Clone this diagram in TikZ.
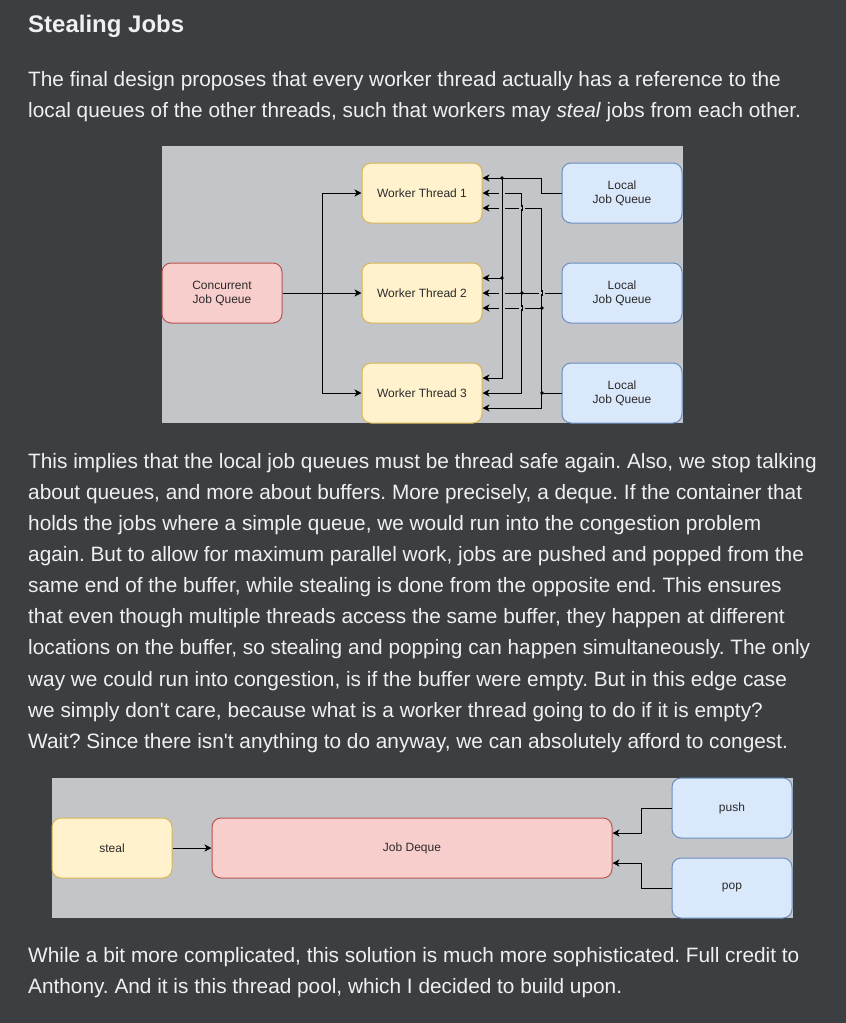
\documentclass[tikz,border=0pt]{standalone}
\usepackage{fontspec}
\setmainfont{Liberation Sans}
\usetikzlibrary{calc,arrows.meta}
\definecolor{pagebg}{HTML}{3B3F42}
\definecolor{diagbg}{HTML}{C3C5C8}
\definecolor{bodytext}{HTML}{F0F0F0}
\definecolor{boxtext}{HTML}{2A2A2A}
\definecolor{workfill}{HTML}{FFF2CC}	\definecolor{workdraw}{HTML}{D6B656}
\definecolor{queuefill}{HTML}{F8CECC}	\definecolor{queuedraw}{HTML}{B85450}
\definecolor{localfill}{HTML}{DAE8FC}	\definecolor{localdraw}{HTML}{6C8EBF}
\def\linegap(#1,#2)% Syntax: (x,y) of a crossing; the horizontal wire gets a gap, the vertical one runs through
{ \fill[diagbg] ({#1-3},{#2-1.2}) rectangle ({#1+3},{#2+1.2}); \draw[line width=1pt] (#1,{#2-3}) -- (#1,{#2+3}); }
\def\joint(#1)% Syntax: (point) where wires meet
{ \fill (#1) circle[radius=1.8pt]; }
\frenchspacing

\begin{document}
\begin{tikzpicture}[x=1pt,y=-1pt,
	body/.style={anchor=base west,inner sep=0pt,text=bodytext,font=\fontsize{20.8}{31}\selectfont},
	box/.style={draw,line width=1pt,rounded corners=9pt,minimum width=120pt,minimum height=60pt,inner sep=0pt,align=center,text=boxtext,font=\fontsize{12}{14}\selectfont},
	worker/.style={box,fill=workfill,draw=workdraw},
	queue/.style={box,fill=queuefill,draw=queuedraw},
	local/.style={box,fill=localfill,draw=localdraw},
	conn/.style={line width=1pt,-{Stealth[length=7pt,width=7pt,inset=2pt]}}]
	\useasboundingbox (0,0) rectangle (846,1023);
	\fill[pagebg] (0,0) rectangle (846,1023);
	%
	\node[body,font=\bfseries\fontsize{24}{28}\selectfont] (title) at (28,32) {Stealing Jobs};
	\node[body] (p1a) at (28,86.5) {The final design proposes that every worker thread actually has a reference to the};
	\node[body] (p1b) at (28,117.7) {local queues of the other threads, such that workers may \textit{steal} jobs from each other.};
	%
	\fill[diagbg] (162,146) rectangle (683,423);
	\node[queue] (cq) at (222,293) {Concurrent\\Job Queue};
	\node[worker] (w1) at (422,193) {Worker Thread 1};
	\node[worker] (w2) at (422,293) {Worker Thread 2};
	\node[worker] (w3) at (422,393) {Worker Thread 3};
	\node[local] (q1) at (622,193) {Local\\Job Queue};
	\node[local] (q2) at (622,293) {Local\\Job Queue};
	\node[local] (q3) at (622,393) {Local\\Job Queue};
	%
	\draw[conn] (cq.east) -- (w2.west);
	\draw[conn] (cq.east) -- ++(40,0) |- (w1.west);
	\draw[conn] (cq.east) -- ++(40,0) |- (w3.west);
	%
	\draw[conn] (q1.west) -- ++(-20,0) |- ($(w1.east)+(0,-15)$);
	\draw[conn] (q1.west) -- ++(-20,0) |- ($(w1.east)+(20,-15)$) |- ($(w2.east)+(0,-15)$);
	\draw[conn] (q1.west) -- ++(-20,0) |- ($(w1.east)+(20,-15)$) |- ($(w3.east)+(0,-15)$);
	\draw[conn] (q2.west) -- (w2.east);
	\draw[conn] (q2.west) -- ++(-40,0) |- (w1.east);
	\draw[conn] (q2.west) -- ++(-40,0) |- (w3.east);
	\draw[conn] (q3.west) -- ++(-20,0) |- ($(w1.east)+(0,15)$);
	\draw[conn] (q3.west) -- ++(-20,0) |- ($(w2.east)+(0,15)$);
	\draw[conn] (q3.west) -- ++(-20,0) |- ($(w3.east)+(0,15)$);
	%
	\linegap(502,193)	\linegap(502,208)	\linegap(522,208)	\linegap(502,293)
	\linegap(542,293)	\linegap(502,308)	\linegap(522,308)
	\joint(502,178)	\joint(502,278)	\joint(522,293)	\joint(542,308)	\joint(542,393)
	%
	\node[body] (p2a) at (28,468.3) {This implies that the local job queues must be thread safe again. Also, we stop talking};
	\node[body] (p2b) at (28,499.4) {about queues, and more about buffers. More precisely, a deque. If the container that};
	\node[body] (p2c) at (28,530.5) {holds the jobs where a simple queue, we would run into the congestion problem};
	\node[body] (p2d) at (28,561.6) {again. But to allow for maximum parallel work, jobs are pushed and popped from the};
	\node[body] (p2e) at (28,592.7) {same end of the buffer, while stealing is done from the opposite end. This ensures};
	\node[body] (p2f) at (28,623.8) {that even though multiple threads access the same buffer, they happen at different};
	\node[body] (p2g) at (28,654.9) {locations on the buffer, so stealing and popping can happen simultaneously. The only};
	\node[body] (p2h) at (28,686.0) {way we could run into congestion, is if the buffer were empty. But in this edge case};
	\node[body] (p2i) at (28,717.1) {we simply don\textquotesingle t care, because what is a worker thread going to do if it is empty?};
	\node[body] (p2j) at (28,748.2) {Wait? Since there isn\textquotesingle t anything to do anyway, we can absolutely afford to congest.};
	%
	\fill[diagbg] (52,778) rectangle (793,918);
	\node[worker] (st) at (112,848) {steal};
	\node[queue,minimum width=400pt] (dq) at (412,848) {Job Deque};
	\node[local] (pu) at (732,808) {push};
	\node[local] (po) at (732,888) {pop};
	\draw[conn] (st) -- (dq);
	\draw[conn] (pu.west) -- ++(-30,0) |- ($(dq.east)+(0,-15)$);
	\draw[conn] (po.west) -- ++(-30,0) |- ($(dq.east)+(0,15)$);
	%
	\node[body] (p3a) at (28,962.5) {While a bit more complicated, this solution is much more sophisticated. Full credit to};
	\node[body] (p3b) at (28,993.5) {Anthony. And it is this thread pool, which I decided to build upon.};
\end{tikzpicture}
\end{document}
